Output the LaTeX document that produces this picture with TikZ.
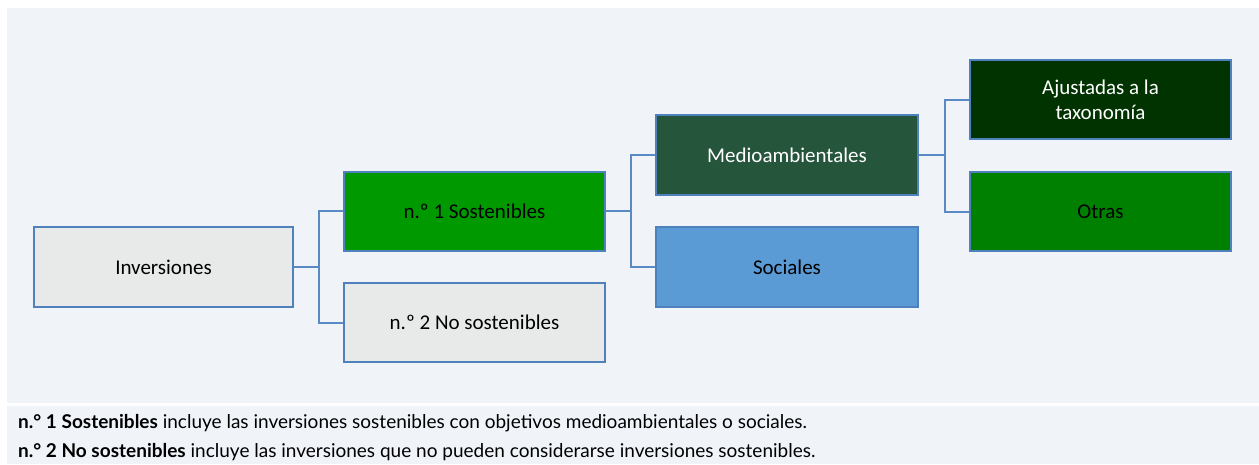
\documentclass[tikz,border=0pt]{standalone}
\usepackage{fontspec}
\setmainfont{Carlito}
\newfontfamily\footfont{Lato}
\definecolor{panel}{HTML}{F0F4F9}
\definecolor{edge}{HTML}{4F81BD}
\definecolor{wire}{HTML}{5A8AC3}
\definecolor{grayfill}{HTML}{E8EAE9}
\definecolor{sgreen}{HTML}{009900}
\definecolor{mgreen}{HTML}{25553A}
\definecolor{dgreen}{HTML}{003300}
\definecolor{ogreen}{HTML}{008000}
\definecolor{sblue}{HTML}{5B9BD5}
\begin{document}
\begin{tikzpicture}[x=1pt,y=-1pt,
  box/.style={draw=edge, line width=2pt, rectangle, inner sep=0pt, minimum width=261pt, minimum height=79pt, align=center, font=\fontsize{21}{25}\selectfont},
  wirel/.style={draw=wire, line width=2pt},
  foot/.style={anchor=base west, inner sep=0pt, font=\footfont\fontsize{19}{22}\selectfont}]
\useasboundingbox (0,0) rectangle (1259,464);
\fill[white] (0,0) rectangle (1259,464);
\fill[panel] (7,8) rectangle (1259,403);
\fill[panel] (7,406) rectangle (1259,464);

\node[box, fill=grayfill, minimum width=259pt, minimum height=80pt] (inv) at (163.5,267) {Inversiones};
\node[box, fill=sgreen] (s1) at (474.5,211) {n.º 1 Sostenibles};
\node[box, fill=grayfill] (s2) at (474.5,322.5) {n.º 2 No sostenibles};
\node[box, fill=mgreen, text=white, minimum width=262pt, minimum height=80pt] (med) at (787,155) {Medioambientales};
\node[box, fill=sblue, minimum width=262pt, minimum height=80pt] (soc) at (787,267) {Sociales};
\node[box, fill=dgreen, text=white] (aj) at (1100.5,99.5) {Ajustadas a la\\taxonomía};
\node[box, fill=ogreen] (otr) at (1100.5,211.5) {Otras};

\draw[wirel] (inv.east) -- ++(25,0) coordinate (j1);
\draw[wirel] (j1) |- (s1.west);
\draw[wirel] (j1) |- (s2.west);
\draw[wirel] (s1.east) -- ++(25,0) coordinate (j2);
\draw[wirel] (j2) |- (med.west);
\draw[wirel] (j2) |- (soc.west);
\draw[wirel] (med.east) -- ++(26,0) coordinate (j3);
\draw[wirel] (j3) |- (aj.west);
\draw[wirel] (j3) |- (otr.west);

\node[foot] (f1) at (18,428) {\textbf{n.° 1 Sostenibles} incluye las inversiones sostenibles con objetivos medioambientales o sociales.};
\node[foot] (f2) at (18,457) {\textbf{n.° 2 No sostenibles} incluye las inversiones que no pueden considerarse inversiones sostenibles.};
\end{tikzpicture}
\end{document}
